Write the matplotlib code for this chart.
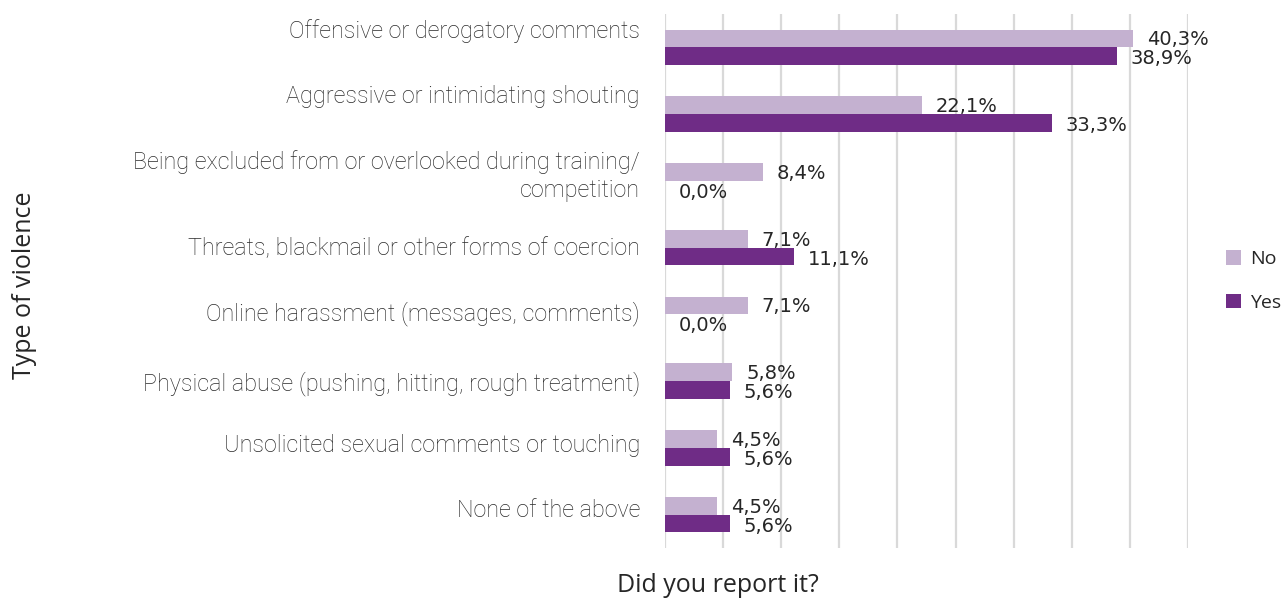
import matplotlib
matplotlib.use("Agg")
import matplotlib.pyplot as plt
import matplotlib.transforms as mtransforms
import numpy as np

categories = [
    "Offensive or derogatory comments",
    "Aggressive or intimidating shouting",
    "Being excluded from or overlooked during training/\ncompetition",
    "Threats, blackmail or other forms of coercion",
    "Online harassment (messages, comments)",
    "Physical abuse (pushing, hitting, rough treatment)",
    "Unsolicited sexual comments or touching",
    "None of the above",
]
no_vals = [40.3, 22.1, 8.4, 7.1, 7.1, 5.8, 4.5, 4.5]
yes_vals = [38.9, 33.3, 0.0, 11.1, 0.0, 5.6, 5.6, 5.6]
series_names = ["No", "Yes"]

light = "#C4B1D0"
dark = "#6F2C86"
txt = "#262626"

fig = plt.figure(figsize=(12.82, 6.03), dpi=100)
ax = fig.add_axes([665 / 1282, 55 / 603, 523 / 1282, 534 / 603])

y = np.arange(len(categories))
h = 0.265
b_no = ax.barh(y - h / 2, no_vals, height=h, color=light, label=series_names[0])
b_yes = ax.barh(y + h / 2, yes_vals, height=h, color=dark, label=series_names[1])

ax.set_xlim(0, 45)
ax.set_ylim(len(categories) - 0.5, -0.5)
ax.set_xticks(np.arange(0, 46, 5))
ax.xaxis.grid(True, color="#D9D9D9", linewidth=1.6)
ax.set_axisbelow(True)
ax.tick_params(axis="x", length=0, labelbottom=False)
ax.tick_params(axis="y", length=0, pad=18)
ax.set_yticks(y)
ax.set_yticklabels(categories, fontsize=16.8, color="#2a2a2a", family="Roboto",
                   fontweight="light", linespacing=1.28)
for s in ax.spines.values():
    s.set_visible(False)

# the category labels sit a little above their bar pairs (pixels)
nudge = [19, 20, 10, 2, 3, 0, 5, 7]
for lab, dy in zip(ax.get_yticklabels(), nudge):
    lab.set_transform(lab.get_transform() +
                      mtransforms.ScaledTranslation(0, dy / 100, fig.dpi_scale_trans))

def fmt(v):
    return f"{v:.1f}%".replace(".", ",")

for bars, vals, dy in ((b_no, no_vals, 1.0), (b_yes, yes_vals, 2.0)):
    for bar, v in zip(bars, vals):
        ax.annotate(fmt(v), (v, bar.get_y() + bar.get_height() / 2),
                    xytext=(10, -dy), textcoords="offset points",
                    ha="left", va="center", fontsize=14, color=txt)

leg = ax.legend(loc="center left", bbox_to_anchor=(1.073, 0.5), frameon=False,
                borderaxespad=0, borderpad=0,
                handlelength=0.75, handleheight=0.75, handletextpad=0.5,
                labelspacing=1.3, prop={"family": "Open Sans", "size": 14})
for t in leg.get_texts():
    t.set_color(txt)

fig.text(25 / 1282, 0.527, "Type of violence", rotation=90, ha="center",
         va="center", fontsize=18, color=txt, family="Open Sans")
fig.text(718 / 1282, 18 / 603, "Did you report it?", ha="center",
         va="center", fontsize=18, color=txt, family="Open Sans")

fig.savefig("out.png", dpi=100)
